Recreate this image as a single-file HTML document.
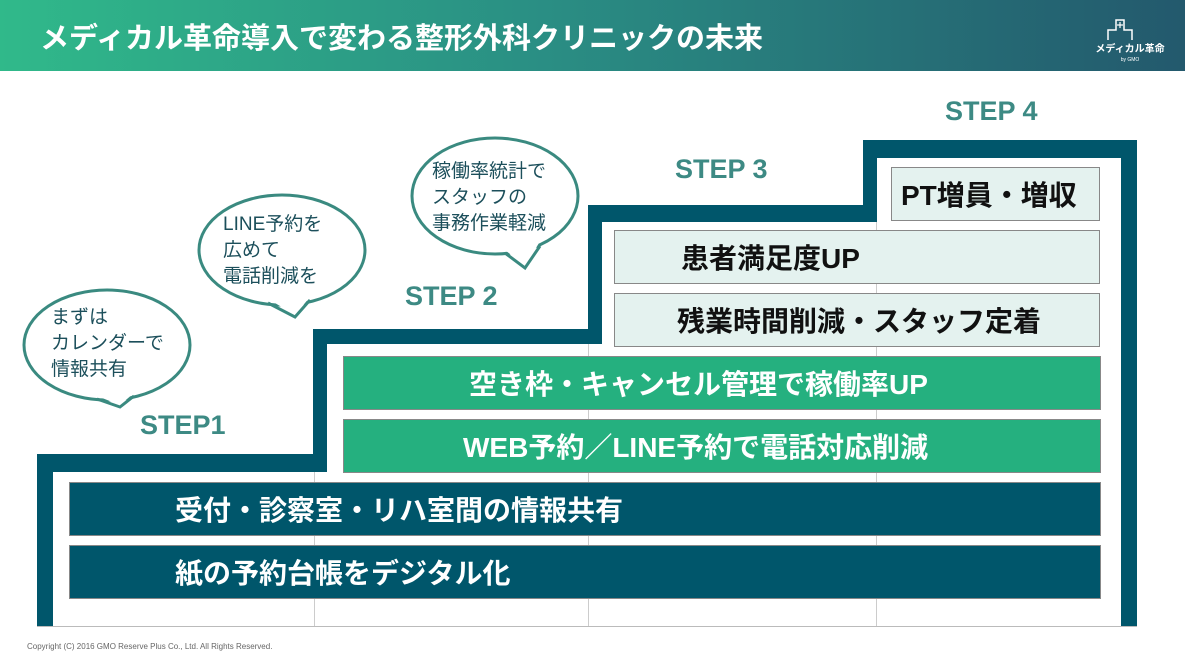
<!DOCTYPE html>
<html><head><meta charset="utf-8"><style>
*{margin:0;padding:0;box-sizing:border-box}
body{width:1185px;height:664px;position:relative;background:#fff;overflow:hidden;font-family:"Liberation Sans","Noto Sans CJK JP",sans-serif}
.a{position:absolute}
.hd{left:0;top:0;width:1185px;height:71px;background:linear-gradient(90deg,#30b98a,#2a8f84 45%,#23596d)}
.tt{left:40px;top:15px;color:#fff;font-size:29px;font-weight:bold}
.d{background:#00566b}
.w{background:#fff}
.bx{display:flex;align-items:center;font-size:28px;font-weight:bold;border:1px solid #888;white-space:nowrap}
.lt{background:#e4f2ef;color:#111}
.gr{background:#25b07f;color:#fff}
.dk{background:#00566b;color:#fff}
.st{color:#3d8a84;font-weight:bold;font-size:27px}
.vl{width:1px;background:#ccc}
</style></head><body>
<div class="a hd"></div>
<div class="a tt">メディカル革命導入で変わる整形外科クリニックの未来</div>
<svg class="a" style="left:1090px;top:12px" width="80" height="52">
<path d="M18 28 V18 H26 V8 H34 V18 H42 V28" fill="none" stroke="#fff" stroke-width="1.5"/>
<path d="M30 10 V16 M27 13 H33" stroke="#fff" stroke-width="1.2"/>
<text x="40" y="40" fill="#fff" font-size="10" font-weight="bold" text-anchor="middle" font-family="Liberation Sans,Noto Sans CJK JP,sans-serif">メディカル革命</text>
<text x="40" y="49" fill="#fff" font-size="5" text-anchor="middle" font-family="Liberation Sans,sans-serif">by GMO</text>
</svg>

<div class="a d" style="left:37px;top:454px;width:1100px;height:173px"></div>
<div class="a d" style="left:313px;top:329px;width:824px;height:298px"></div>
<div class="a d" style="left:588px;top:205px;width:549px;height:422px"></div>
<div class="a d" style="left:863px;top:140px;width:274px;height:487px"></div>
<div class="a w" style="left:53px;top:472px;width:1068px;height:155px"></div>
<div class="a w" style="left:327px;top:344px;width:794px;height:283px"></div>
<div class="a w" style="left:602px;top:222px;width:519px;height:405px"></div>
<div class="a w" style="left:877px;top:158px;width:244px;height:469px"></div>
<div class="a vl" style="left:314px;top:472px;height:155px"></div>
<div class="a vl" style="left:588px;top:344px;height:283px"></div>
<div class="a vl" style="left:876px;top:222px;height:405px"></div>
<div class="a" style="left:37px;top:626px;width:1100px;height:1px;background:#bbb"></div>

<div class="a bx lt" style="left:891px;top:167px;width:209px;height:54px;padding-left:9px">PT増員・増収</div>
<div class="a bx lt" style="left:614px;top:230px;width:486px;height:54px;padding-left:66px">患者満足度UP</div>
<div class="a bx lt" style="left:614px;top:293px;width:486px;height:54px;padding-left:62px">残業時間削減・スタッフ定着</div>
<div class="a bx gr" style="left:343px;top:356px;width:758px;height:54px;padding-left:125px">空き枠・キャンセル管理で稼働率UP</div>
<div class="a bx gr" style="left:343px;top:419px;width:758px;height:54px;padding-left:119px">WEB予約／LINE予約で電話対応削減</div>
<div class="a bx dk" style="left:69px;top:482px;width:1032px;height:54px;padding-left:105px">受付・診察室・リハ室間の情報共有</div>
<div class="a bx dk" style="left:69px;top:545px;width:1032px;height:54px;padding-left:105px">紙の予約台帳をデジタル化</div>

<div class="a st" style="left:140px;top:410px">STEP1</div>
<div class="a st" style="left:405px;top:281px">STEP 2</div>
<div class="a st" style="left:675px;top:154px">STEP 3</div>
<div class="a st" style="left:945px;top:96px">STEP 4</div>

<svg class="a" style="left:0;top:0" width="1185" height="664">
<g fill="#fff" stroke="#3a8a80" stroke-width="3">
<ellipse cx="107" cy="345" rx="83" ry="55"/>
<ellipse cx="282" cy="250" rx="83" ry="55"/>
<ellipse cx="495" cy="196" rx="83" ry="58"/>
</g>
<g fill="#fff" stroke="none">
<polygon points="97,396 120,405 134,393"/>
<polygon points="270,300 295,315 310,297"/>
<polygon points="505,250 525,266 539,243"/>
</g>
<g fill="none" stroke="#3a8a80" stroke-width="3">
<polyline points="97,399 120,407 134,396"/>
<polyline points="268,303 295,317 310,300"/>
<polyline points="505,253 525,268 540,246"/>
</g>
<g fill="#1c4f5b" font-size="19" font-family="Liberation Sans,Noto Sans CJK JP,sans-serif">
<text x="51" y="323">まずは</text><text x="51" y="349">カレンダーで</text><text x="51" y="375">情報共有</text>
<text x="223" y="230">LINE予約を</text><text x="223" y="256">広めて</text><text x="223" y="282">電話削減を</text>
<text x="432" y="177">稼働率統計で</text><text x="432" y="203">スタッフの</text><text x="432" y="229">事務作業軽減</text>
</g>
</svg>
<div class="a" style="left:27px;top:642px;font-size:8px;color:#666">Copyright (C) 2016 GMO Reserve Plus Co., Ltd. All Rights Reserved.</div>
</body></html>
